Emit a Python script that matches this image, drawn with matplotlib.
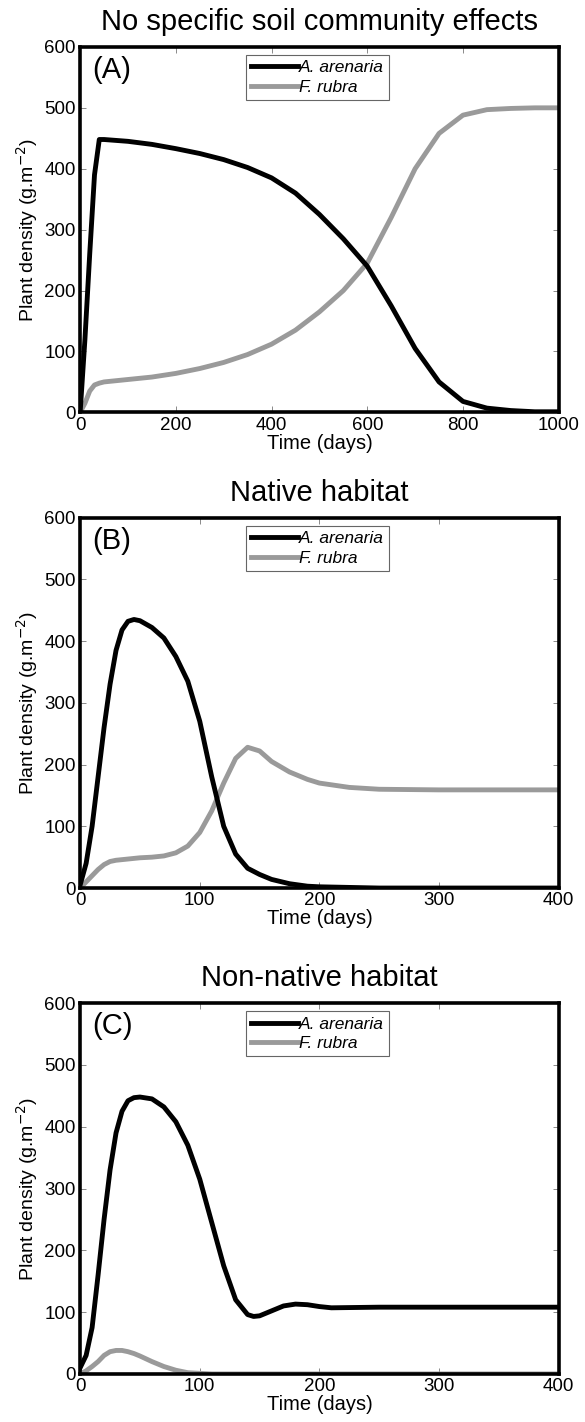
"""Plant density over time for A. arenaria and F. rubra in three soil scenarios."""

import matplotlib.pyplot as plt

plt.rcParams["font.family"] = ["Liberation Sans", "DejaVu Sans"]

# Panel A: no specific soil community effects
a_time = [0, 10, 20, 30, 40, 50, 100, 150, 200, 250, 300, 350, 400, 450, 500, 550, 600,
          650, 700, 750, 800, 850, 900, 950, 1000]
a_arenaria = [0, 120, 260, 390, 448, 448, 445, 440, 433, 425, 415, 402, 385, 360, 325, 285, 240,
              175, 105, 50, 18, 7, 3, 1, 1]
a_rubra = [0, 15, 35, 45, 48, 50, 54, 58, 64, 72, 82, 95, 112, 135, 165, 200, 245,
           320, 400, 458, 488, 497, 499, 500, 500]

# Panel B: native habitat
b_time = [0, 5, 10, 15, 20, 25, 30, 35, 40, 45, 50, 60, 70, 80, 90, 100, 110, 120, 130,
          140, 150, 160, 175, 190, 200, 225, 250, 300, 400]
b_arenaria = [5, 40, 100, 180, 260, 330, 385, 418, 432, 435, 433, 422, 405, 375, 335, 270, 180, 100, 55,
              32, 22, 14, 7, 3, 2, 1, 0, 0, 0]
b_rubra = [0, 10, 20, 30, 38, 43, 45, 46, 47, 48, 49, 50, 52, 57, 68, 90, 125, 170, 210,
           228, 222, 205, 188, 176, 170, 163, 160, 159, 159]

# Panel C: non-native habitat
c_time = [0, 5, 10, 15, 20, 25, 30, 35, 40, 45, 50, 60, 70, 80, 90, 100, 110, 120, 130,
          140, 145, 150, 160, 170, 180, 190, 200, 210, 250, 300, 400]
c_arenaria = [10, 30, 75, 160, 250, 330, 390, 425, 442, 447, 448, 445, 432, 408, 370, 315, 245, 175, 120,
              96, 93, 94, 102, 110, 113, 112, 109, 107, 108, 108, 108]
c_rubra = [0, 5, 12, 20, 30, 36, 38, 38, 36, 33, 29, 20, 12, 6, 2, 1, 0, 0, 0,
           0, 0, 0, 0, 0, 0, 0, 0, 0, 0, 0, 0]

titles = ["No specific soil community effects", "Native habitat", "Non-native habitat"]
panel_labels = ["(A)", "(B)", "(C)"]
x_limits = [1000, 400, 400]
x_steps = [200, 100, 100]

panels = [
    (a_time, a_arenaria, a_rubra),
    (b_time, b_arenaria, b_rubra),
    (c_time, c_arenaria, c_rubra),
]

fig = plt.figure(figsize=(5.85, 14.22), dpi=100)
axes_boxes = [
    [0.137, 0.710, 0.818, 0.257],
    [0.137, 0.3755, 0.818, 0.2605],
    [0.137, 0.0338, 0.818, 0.2608],
]

for box, (t, y1, y2), title, label, xmax, step in zip(
        axes_boxes, panels, titles, panel_labels, x_limits, x_steps):
    ax = fig.add_axes(box)
    ax.plot(t, y1, color="black", linewidth=3.5, label="A. arenaria", zorder=3)
    ax.plot(t, y2, color="#9a9a9a", linewidth=3.5, label="F. rubra", zorder=2)
    ax.set_xlim(0, xmax)
    ax.set_ylim(0, 600)
    ax.set_xticks(range(0, xmax + 1, step))
    ax.set_yticks(range(0, 601, 100))
    ax.tick_params(direction="in", top=True, right=True, length=4, width=0.6,
                   color="#777777", labelsize=13.5, pad=3)
    for spine in ax.spines.values():
        spine.set_linewidth(2.6)
    ax.set_xlabel("Time (days)", fontsize=14.5, labelpad=0)
    ax.set_ylabel("Plant density (g.m$^{-2}$)", fontsize=14, labelpad=3)
    ax.set_title(title, fontsize=21, pad=12)
    ax.text(0.025, 0.975, label, transform=ax.transAxes, fontsize=21,
            ha="left", va="top")
    leg = ax.legend(loc="upper center", bbox_to_anchor=(0.496, 0.978),
                    prop={"style": "italic", "size": 12.5}, handlelength=2.7,
                    handletextpad=0.05, borderpad=0.3, labelspacing=0.25,
                    borderaxespad=0, fancybox=False, edgecolor="#666666", framealpha=1)
    leg.get_frame().set_linewidth(0.8)

fig.savefig("out.png", dpi=100)
